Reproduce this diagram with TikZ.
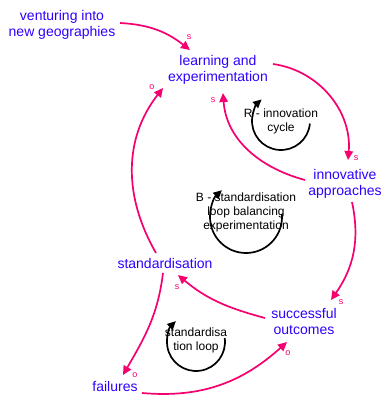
\documentclass[tikz,border=0pt]{standalone}
\usepackage{fontspec}
\setmainfont{Liberation Sans}
\usetikzlibrary{arrows.meta,calc}
\definecolor{varblue}{RGB}{48,0,255}
\definecolor{linkpink}{RGB}{245,0,110}
\tikzset{
  var/.style={text=varblue, align=center, inner sep=0pt, font=\fontsize{14}{16}\selectfont},
  looplabel/.style={text=black, align=center, inner sep=0pt, font=\fontsize{12}{14}\selectfont},
  pol/.style={text=linkpink, inner sep=0pt, font=\fontsize{9}{10}\selectfont},
  link/.style={draw=linkpink, line width=1.7pt, -{Triangle[length=9pt,width=8.5pt]}},
  loopar/.style={draw=black, line width=1.7pt, -{Triangle[length=8.5pt,width=8pt]}}
}
\begin{document}
\begin{tikzpicture}[x=1pt,y=1pt]
\useasboundingbox (0,0) rectangle (391,-402);
% variables
\node[var] (vent) at (62,-25) {venturing into\\new geographies};
\node[var] (learn) at (218,-70) {learning and\\experimentation};
\node[var] (innov) at (345,-184) {innovative\\approaches};
\node[var] (stand) at (165,-263) {standardisation};
\node[var] (succ) at (304,-321) {successful\\outcomes};
\node[var] (fail) at (115,-386) {failures};
% loop labels
\node[looplabel] (Rl) at (281,-121) {R - innovation\\cycle};
\node[looplabel] (Bl) at (246,-212) {B - standardisation\\loop balancing\\experimentation};
\node[looplabel] (Sl) at (196,-340) {standardisa\\tion loop};
% loop arcs
\draw[loopar] ([shift={(-5:29)}]Rl.center) arc[start angle=-5, end angle=-228, radius=29];
\draw[loopar] ([shift={(5:36)}]$(Bl.center)+(0,-5)$) arc[start angle=5, end angle=-228, radius=36];
\draw[loopar] ([shift={(8:29)}]$(Sl.center)+(0,-2)$) arc[start angle=8, end angle=-226, radius=29];
% links
\draw[link] ($(vent)+(58,2)$) to[out=-3,in=142] ($(learn)+(-28,20)$);
\draw[link] ($(learn)+(55,6)$) to[out=-8,in=85] ($(innov)+(3,24)$);
\draw[link] ($(innov)+(-40,4)$) to[out=165,in=-86] ($(learn)+(5,-23)$);
\draw[link] ($(innov)+(7,-18)$) to[out=-78,in=55] ($(succ)+(27,21)$);
\draw[link] ($(stand)+(-9,10)$) to[out=120,in=-128] ($(learn)+(-55,-18)$);
\draw[link] ($(succ)+(-39,3)$) to[out=165,in=-40] ($(stand)+(13,-12)$);
\draw[link] ($(stand)+(-2,-10)$) to[out=-97,in=60] ($(fail)+(8,11)$);
\draw[link] ($(fail)+(27,-7)$) to[out=-5,in=-138] ($(succ)+(-17,-21)$);
% polarities
\node[pol] (p1) at (189,-37) {s};
\node[pol] (p2) at (356,-158) {s};
\node[pol] (p3) at (213,-100) {s};
\node[pol] (p4) at (341,-302) {s};
\node[pol] (p5) at (152,-87) {o};
\node[pol] (p6) at (177,-287) {s};
\node[pol] (p7) at (135,-375) {o};
\node[pol] (p8) at (288,-353) {o};
\end{tikzpicture}
\end{document}
